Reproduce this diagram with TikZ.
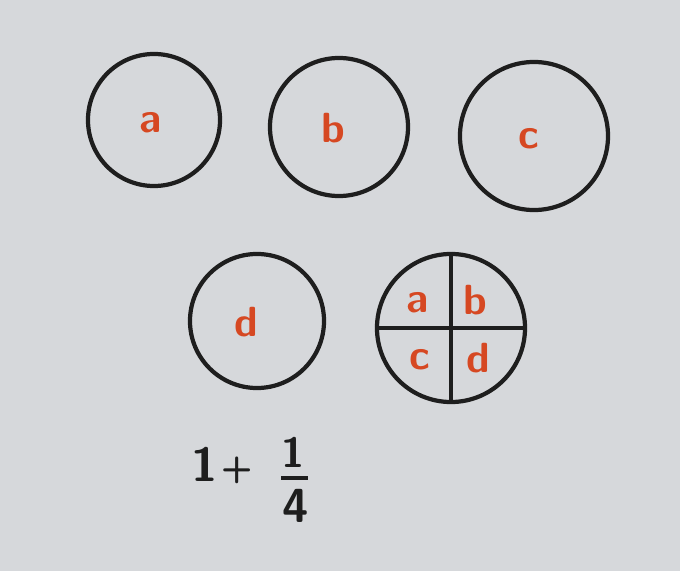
\documentclass[tikz,border=0pt]{standalone}
\usepackage{xcolor}
\definecolor{cPaper}{RGB}{214,216,219}
\definecolor{cInk}{RGB}{30,30,30}
\definecolor{cMark}{RGB}{214,72,34}

\begin{document}
\begin{tikzpicture}[
  x=0.025cm, y=-0.025cm,
  disc/.style={
    draw=cInk, circle, line width=3pt,
    inner sep=0pt
  },
  letter/.style={
    text=cMark, font=\fontsize{30}{30}\selectfont\sffamily\bfseries,
    inner sep=0pt
  },
  digit/.style={
    text=cInk, font=\fontsize{34}{34}\selectfont\sffamily\bfseries,
    inner sep=0pt
  }
]

% Paper
\fill[cPaper] (0,0) rectangle (680,571);
\useasboundingbox (0,0) rectangle (680,571);

% Whole circles
\node[disc, minimum size=3.3cm] (ca) at (154,120) {};
\node[disc, minimum size=3.45cm] (cb) at (339,127) {};
\node[disc, minimum size=3.7cm] (cc) at (534,136) {};
\node[disc, minimum size=3.35cm] (cd) at (257,321) {};

\node[letter] (la) at (151,123) {a};
\node[letter] (lb) at (333,128) {b};
\node[letter] (lc) at (529,139) {c};
\node[letter] (ld) at (246,322) {d};

% Quartered circle
\node[disc, minimum size=3.7cm] (cq) at (451,328) {};
\draw[cInk, line width=3pt] (cq.north) -- (cq.south);
\draw[cInk, line width=3pt] (cq.west) -- (cq.east);

\node[letter] (qa) at (418,303) {a};
\node[letter] (qb) at (475,300) {b};
\node[letter] (qc) at (420,360) {c};
\node[letter] (qd) at (478,358) {d};

% Sum
\node[digit] (one) at (205,464) {1};
\node[digit, font=\fontsize{26}{26}\selectfont\sffamily\bfseries] (plus) at (237,470) {+};
\node[digit, font=\fontsize{30}{30}\selectfont\sffamily\bfseries] (num) at (293,452) {1};
\node[digit] (den) at (296,506) {4};
\coordinate (barL) at (281,478);
\coordinate (barR) at (308,478);
\draw[cInk, line width=3pt] (barL) -- (barR);

\end{tikzpicture}
\end{document}
